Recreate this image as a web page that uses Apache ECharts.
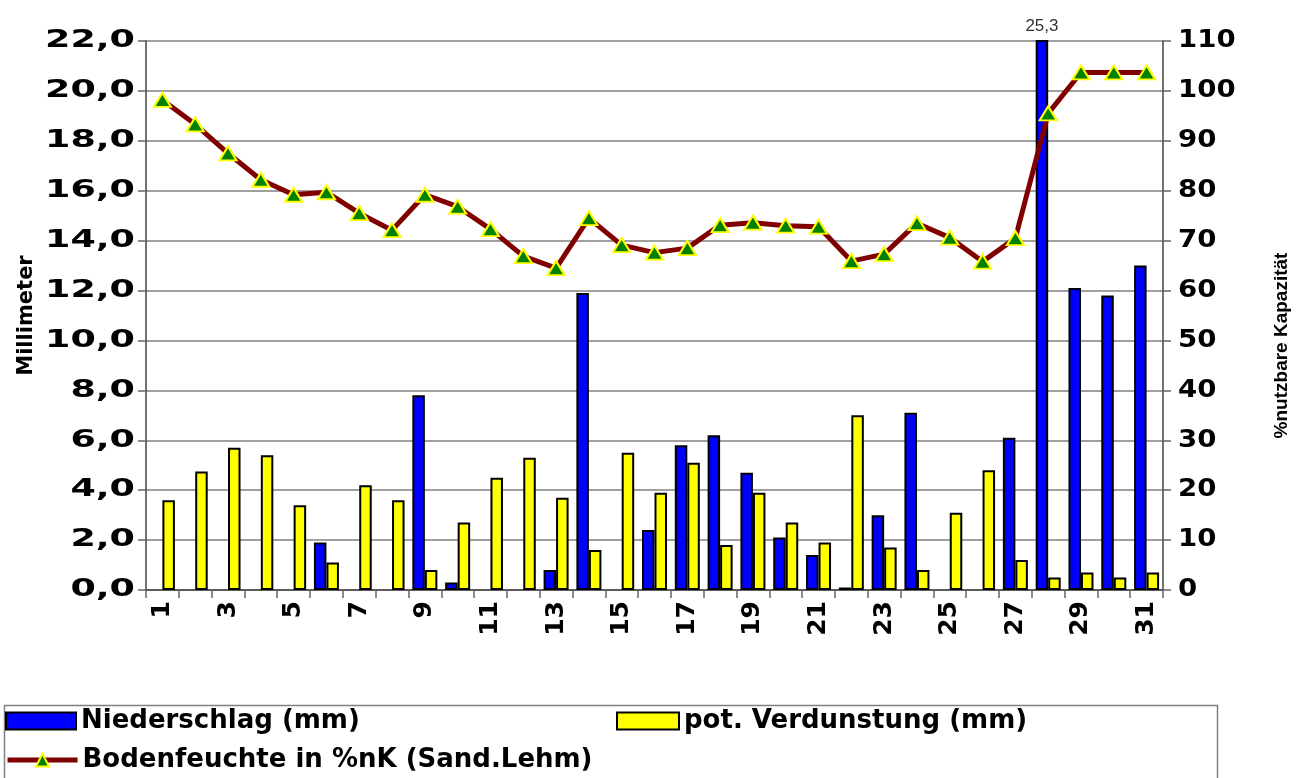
<!DOCTYPE html>
<html>
<head>
<meta charset="utf-8">
<script src="https://cdn.jsdelivr.net/npm/echarts@6/dist/echarts.min.js"></script>
<style>
  html, body { margin: 0; padding: 0; background: #fff; }
  #chart { width: 1299px; height: 778px; }
</style>
</head>
<body>
<div id="chart"></div>
<script>
// ---- data ----
const days = ['1','2','3','4','5','6','7','8','9','10','11','12','13','14','15','16','17','18','19','20','21','22','23','24','25','26','27','28','29','30','31'];
const niederschlag = [0, 0, 0, 0, 0, 1.9, 0, 0, 7.8, 0.3, 0, 0, 0.8, 11.9, 0, 2.4, 5.8, 6.2, 4.7, 2.1, 1.4, 0.1, 3.0, 7.1, 0, 0, 6.1, 25.3, 12.1, 11.8, 13.0];
const verdunstung = [3.6, 4.75, 5.7, 5.4, 3.4, 1.1, 4.2, 3.6, 0.8, 2.7, 4.5, 5.3, 3.7, 1.6, 5.5, 3.9, 5.1, 1.8, 3.9, 2.7, 1.9, 7.0, 1.7, 0.8, 3.1, 4.8, 1.2, 0.5, 0.7, 0.5, 0.7];
const bodenfeuchte = [98.2, 93.3, 87.5, 82.2, 79.2, 79.7, 75.5, 72.1, 79.2, 76.8, 72.3, 66.9, 64.5, 74.5, 69.1, 67.6, 68.5, 73.1, 73.6, 73.0, 72.8, 65.9, 67.3, 73.5, 70.6, 65.8, 70.5, 95.5, 103.7, 103.7, 103.7];
const seriesNames = ['Niederschlag (mm)', 'pot. Verdunstung (mm)', 'Bodenfeuchte in %nK (Sand.Lehm)'];
const leftAxisName = 'Millimeter';
const rightAxisName = '%nutzbare Kapazität';
const leftMax = 22, leftInterval = 2;
const rightMax = 110, rightInterval = 10;

const FONT = 'DejaVu Sans';
const chart = echarts.init(document.getElementById('chart'), null, { renderer: 'canvas' });

function barItem(v) {
  if (v === 0) return { value: 0, itemStyle: { borderWidth: 0 } };
  if (v > leftMax) return { value: v, label: { show: true, position: 'top', distance: 5,
      formatter: String(v).replace('.', ','), color: '#333', fontSize: 17, fontFamily: 'Liberation Sans' } };
  return v;
}

const legendText = { fontFamily: FONT, fontWeight: 'bold', fontSize: 26, color: '#000' };

const GRID = { left: 146, right: 126, top: 41, bottom: 188 };

const option = {
  backgroundColor: '#ffffff',
  animation: false,
  grid: Object.assign({ containLabel: false }, GRID),
  legend: [
    { data: [seriesNames[0]], left: 5, top: 708, padding: 0, icon: 'rect', itemWidth: 70, itemHeight: 17, itemGap: 5,
      textStyle: legendText },
    { data: [seriesNames[1]], left: 616, top: 708, padding: 0, icon: 'rect', itemWidth: 62, itemHeight: 17, itemGap: 5,
      textStyle: legendText },
    { data: [seriesNames[2]], left: 5, top: 747, padding: 0, itemWidth: 70, itemHeight: 16, itemGap: 5,
      lineStyle: { width: 5, color: '#800000' },
      textStyle: legendText }
  ],
  graphic: [
    { type: 'rect', left: 2, top: 703, shape: { width: 1213, height: 90 },
      style: { fill: 'none', stroke: '#808080', lineWidth: 1.5 }, silent: true }
  ],
  xAxis: {
    type: 'category',
    data: days,
    boundaryGap: true,
    axisLine: { show: true, lineStyle: { color: '#444', width: 1.5 } },
    axisTick: { show: true, interval: 0, length: 8, lineStyle: { color: '#666', width: 1.5 } },
    axisLabel: { interval: 1, rotate: 90, margin: 11, fontFamily: FONT, fontWeight: 'bold', fontSize: 25, color: '#000' },
    splitLine: { show: false }
  },
  yAxis: [
    {
      type: 'value', min: 0, max: leftMax, interval: leftInterval,
      name: leftAxisName, nameLocation: 'middle', nameRotate: 90, nameGap: 109,
      nameTextStyle: { fontFamily: FONT, fontWeight: 'bold', fontSize: 21, color: '#000' },
      axisLine: { show: true, lineStyle: { color: '#444', width: 1.5 } },
      axisTick: { show: true, length: 8, lineStyle: { color: '#666', width: 1.5 } },
      axisLabel: { margin: 11, fontFamily: FONT, fontWeight: 'bold', fontSize: 24, color: '#000',
        formatter: v => v.toFixed(1).replace('.', ',') },
      splitLine: { show: true, lineStyle: { color: '#808080', width: 1.5 } }
    },
    {
      type: 'value', min: 0, max: rightMax, interval: rightInterval, position: 'right',
      name: rightAxisName, nameLocation: 'middle', nameRotate: 90, nameGap: 109,
      nameTextStyle: { fontFamily: 'Liberation Sans', fontWeight: 'bold', fontSize: 19, color: '#000',
        padding: [0, 60, 0, 0] },
      axisLine: { show: true, lineStyle: { color: '#444', width: 1.5 } },
      axisTick: { show: true, length: 8, lineStyle: { color: '#666', width: 1.5 } },
      axisLabel: { margin: 15, fontFamily: FONT, fontWeight: 'bold', fontSize: 24, color: '#000' },
      splitLine: { show: false }
    }
  ],
  series: [
    {
      name: seriesNames[0], type: 'bar', yAxisIndex: 0, data: niederschlag.map(barItem),
      barWidth: 12.5, barGap: '0%', clip: true,
      itemStyle: { color: '#0000ff', borderColor: '#000', borderWidth: 2 }
    },
    {
      name: seriesNames[1], type: 'bar', yAxisIndex: 0, data: verdunstung.map(barItem),
      barWidth: 12.5, barGap: '0%',
      itemStyle: { color: '#ffff00', borderColor: '#000', borderWidth: 2 }
    },
    {
      name: seriesNames[2], type: 'line', yAxisIndex: 1, data: bodenfeuchte,
      symbol: 'triangle', symbolSize: [17, 14], z: 5,
      lineStyle: { color: '#800000', width: 5 },
      itemStyle: { color: '#008000', borderColor: '#ffff00', borderWidth: 2 }
    }
  ]
};
chart.setOption(option);

// The reference draws its value-axis tick labels in a horizontally widened face;
// widen the library's own tick-label text elements around their anchor to match.
function widenTickLabels() {
  const zr = chart.getZr();
  const fix = el => {
    if (!el || el.type !== 'text' || !el.style) return;
    const t = String(el.style.text);
    if (Math.abs(el.rotation || 0) > 1e-6) return;
    if (t === '25,3') return;
    if (/^\d+,\d$/.test(t)) { el.scaleX = 1.52; el.dirty && el.dirty(); el.markRedraw(); }
    else if (/^\d{1,3}$/.test(t)) { el.scaleX = 1.15; el.dirty && el.dirty(); el.markRedraw(); }
  };
  zr.storage.getRoots().forEach(root => {
    fix(root);
    if (root.traverse) root.traverse(fix);
  });
  zr.refresh();
}
widenTickLabels();
chart.on('finished', function once() { chart.off('finished', once); widenTickLabels(); });
</script>
</body>
</html>
